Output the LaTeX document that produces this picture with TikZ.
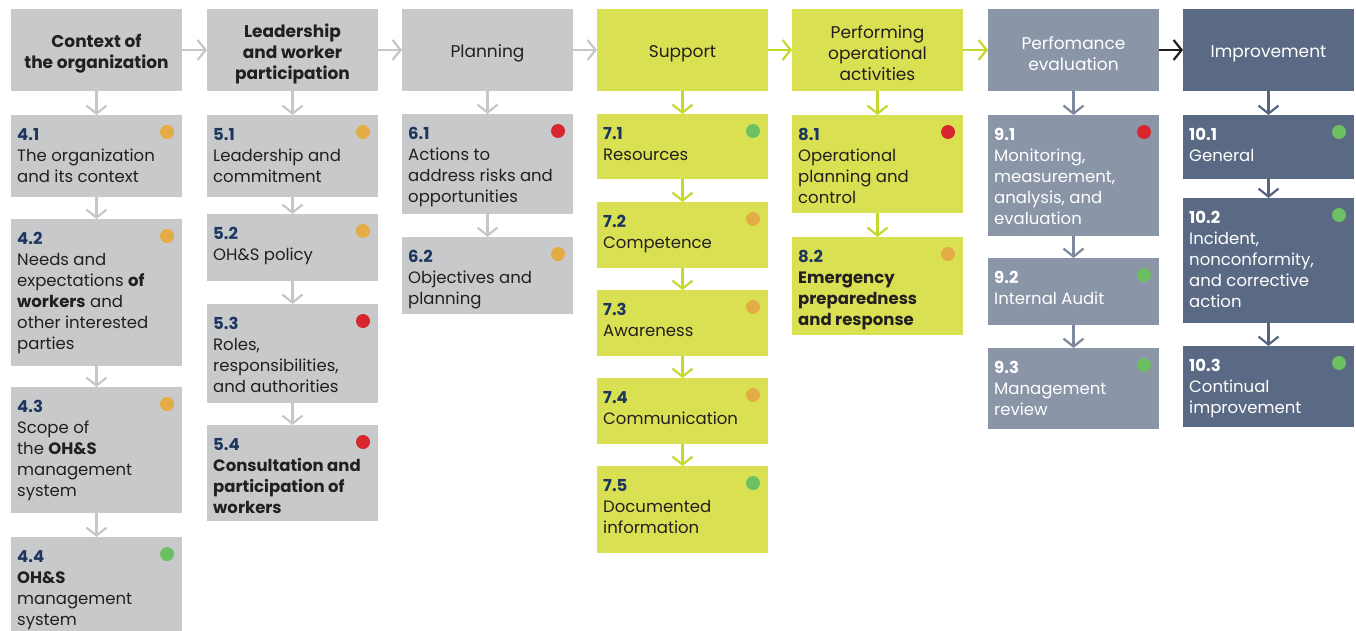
\documentclass[tikz,border=0pt]{standalone}
\usepackage{fontspec}
\setmainfont{Poppins}
\usetikzlibrary{arrows.meta}

\definecolor{boxgray}{HTML}{C8C9CB}
\definecolor{boxlime}{HTML}{D9E152}
\definecolor{boxeval}{HTML}{8A95A8}
\definecolor{boximpr}{HTML}{5B6A84}
\definecolor{arrgray}{HTML}{C6C7C9}
\definecolor{arrlime}{HTML}{C5D92D}
\definecolor{arreval}{HTML}{7D889C}
\definecolor{arrimpr}{HTML}{56647E}
\definecolor{navy}{HTML}{1C365F}
\definecolor{ink}{HTML}{231F20}
\definecolor{dotorg}{HTML}{E3AC45}
\definecolor{dotred}{HTML}{D7262E}
\definecolor{dotgrn}{HTML}{6CC062}

\newcommand\secno[1]{{\bfseries\color{navy}#1}}
\newcommand\secnow[1]{{\bfseries\color{white}#1}}

\tikzset{
  head/.style={anchor=north west, minimum width=171pt, minimum height=82pt, inner sep=0, outer sep=0},
  htxt/.style={yshift=-3.5pt, inner sep=0, align=center, text=ink, font=\fontsize{17}{21}\selectfont},
  sec/.style={anchor=north west, minimum width=171pt, inner sep=0, outer sep=0},
  txt/.style={anchor=north west, xshift=6pt, yshift=-13pt, inner sep=0, align=left,
    text=ink, font=\fontsize{16.5}{21}\selectfont},
  flow/.style={line width=2.2pt, -{Straight Barb[length=8pt,width=20pt]}},
}

\begin{document}
\begin{tikzpicture}[x=1pt,y=-1pt]
\useasboundingbox (0,0) rectangle (1356,631);

% headers
\node[head, fill=boxgray] (h4) at (11,9) {};
\node[head, fill=boxgray] (h5) at (207,9) {};
\node[head, fill=boxgray] (h6) at (402,9) {};
\node[head, fill=boxlime] (h7) at (597,9) {};
\node[head, fill=boxlime] (h8) at (792,9) {};
\node[head, fill=boxeval] (h9) at (988,9) {};
\node[head, fill=boximpr] (h10) at (1183,9) {};
\node[htxt, font=\fontsize{17}{21}\bfseries] (ht4) at (h4.center) {Context of\\the organization};
\node[htxt, font=\fontsize{17}{21}\bfseries] (ht5) at (h5.center) {Leadership\\and worker\\participation};
\node[htxt] (ht6) at (h6.center) {Planning};
\node[htxt] (ht7) at (h7.center) {Support};
\node[htxt] (ht8) at (h8.center) {Performing\\operational\\activities};
\node[htxt, text=white] (ht9) at (h9.center) {Perfomance\\evaluation};
\node[htxt, text=white] (ht10) at (h10.center) {Improvement};

\draw[flow, arrgray] (h4.east) -- (h5.west);
\draw[flow, arrgray] (h5.east) -- (h6.west);
\draw[flow, arrgray] (h6.east) -- (h7.west);
\draw[flow, arrlime] (h7.east) -- (h8.west);
\draw[flow, arrlime] (h8.east) -- (h9.west);
\draw[flow, ink] (h9.east) -- (h10.west);

% clause 4
\node[sec, fill=boxgray, minimum height=82pt] (b41) at (11,115) {};
\node[sec, fill=boxgray, minimum height=147pt] (b42) at (11,219) {};
\node[sec, fill=boxgray, minimum height=126pt] (b43) at (11,387) {};
\node[sec, fill=boxgray, minimum height=94pt] (b44) at (11,537) {};
\node[txt] (t41) at (b41.north west) {\secno{4.1}\\The organization\\and its context};
\node[txt] (t42) at (b42.north west) {\secno{4.2}\\Needs and\\expectations \textbf{of}\\\textbf{workers} and\\other interested\\parties};
\node[txt] (t43) at (b43.north west) {\secno{4.3}\\Scope of\\the \textbf{OH\&S}\\management\\system};
\node[txt] (t44) at (b44.north west) {\secno{4.4}\\\textbf{OH\&S}\\management\\system};
\draw[flow, arrgray] (h4.south) -- (b41.north);
\draw[flow, arrgray] (b41.south) -- (b42.north);
\draw[flow, arrgray] (b42.south) -- (b43.north);
\draw[flow, arrgray] (b43.south) -- (b44.north);

% clause 5
\node[sec, fill=boxgray, minimum height=82pt] (b51) at (207,115) {};
\node[sec, fill=boxgray, minimum height=67pt] (b52) at (207,214) {};
\node[sec, fill=boxgray, minimum height=99pt] (b53) at (207,304) {};
\node[sec, fill=boxgray, minimum height=96pt] (b54) at (207,425) {};
\node[txt] (t51) at (b51.north west) {\secno{5.1}\\Leadership and\\commitment};
\node[txt] (t52) at (b52.north west) {\secno{5.2}\\OH\&S policy};
\node[txt] (t53) at (b53.north west) {\secno{5.3}\\Roles,\\responsibilities,\\and authorities};
\node[txt] (t54) at (b54.north west) {\secno{5.4}\\\textbf{Consultation and}\\\textbf{participation of}\\\textbf{workers}};
\draw[flow, arrgray] (h5.south) -- (b51.north);
\draw[flow, arrgray] (b51.south) -- (b52.north);
\draw[flow, arrgray] (b52.south) -- (b53.north);
\draw[flow, arrgray] (b53.south) -- (b54.north);

% clause 6
\node[sec, fill=boxgray, minimum height=100pt] (b61) at (402,114) {};
\node[sec, fill=boxgray, minimum height=77pt] (b62) at (402,237) {};
\node[txt] (t61) at (b61.north west) {\secno{6.1}\\Actions to\\address risks and\\opportunities};
\node[txt] (t62) at (b62.north west) {\secno{6.2}\\Objectives and\\planning};
\draw[flow, arrgray] (h6.south) -- (b61.north);
\draw[flow, arrgray] (b61.south) -- (b62.north);

% clause 7
\node[sec, fill=boxlime, minimum height=65pt] (b71) at (597,114) {};
\node[sec, fill=boxlime, minimum height=66pt] (b72) at (597,202) {};
\node[sec, fill=boxlime, minimum height=66pt] (b73) at (597,290) {};
\node[sec, fill=boxlime, minimum height=66pt] (b74) at (597,378) {};
\node[sec, fill=boxlime, minimum height=87pt] (b75) at (597,466) {};
\node[txt] (t71) at (b71.north west) {\secno{7.1}\\Resources};
\node[txt] (t72) at (b72.north west) {\secno{7.2}\\Competence};
\node[txt] (t73) at (b73.north west) {\secno{7.3}\\Awareness};
\node[txt] (t74) at (b74.north west) {\secno{7.4}\\Communication};
\node[txt] (t75) at (b75.north west) {\secno{7.5}\\Documented\\information};
\draw[flow, arrlime] (h7.south) -- (b71.north);
\draw[flow, arrlime] (b71.south) -- (b72.north);
\draw[flow, arrlime] (b72.south) -- (b73.north);
\draw[flow, arrlime] (b73.south) -- (b74.north);
\draw[flow, arrlime] (b74.south) -- (b75.north);

% clause 8
\node[sec, fill=boxlime, minimum height=98pt] (b81) at (792,115) {};
\node[sec, fill=boxlime, minimum height=98pt] (b82) at (792,237) {};
\node[txt] (t81) at (b81.north west) {\secno{8.1}\\Operational\\planning and\\control};
\node[txt] (t82) at (b82.north west) {\secno{8.2}\\\textbf{Emergency}\\\textbf{preparedness}\\\textbf{and response}};
\draw[flow, arrlime] (h8.south) -- (b81.north);
\draw[flow, arrlime] (b81.south) -- (b82.north);

% clause 9
\node[sec, fill=boxeval, minimum height=121pt] (b91) at (988,115) {};
\node[sec, fill=boxeval, minimum height=67pt] (b92) at (988,258) {};
\node[sec, fill=boxeval, minimum height=81pt] (b93) at (988,348) {};
\node[txt, text=white] (t91) at (b91.north west) {\secnow{9.1}\\Monitoring,\\measurement,\\analysis, and\\evaluation};
\node[txt, text=white] (t92) at (b92.north west) {\secnow{9.2}\\Internal Audit};
\node[txt, text=white] (t93) at (b93.north west) {\secnow{9.3}\\Management\\review};
\draw[flow, arreval] (h9.south) -- (b91.north);
\draw[flow, arreval] (b91.south) -- (b92.north);
\draw[flow, arreval] (b92.south) -- (b93.north);

% clause 10
\node[sec, fill=boximpr, minimum height=64pt] (b101) at (1183,115) {};
\node[sec, fill=boximpr, minimum height=125pt] (b102) at (1183,198) {};
\node[sec, fill=boximpr, minimum height=81pt] (b103) at (1183,346) {};
\node[txt, text=white] (t101) at (b101.north west) {\secnow{10.1}\\General};
\node[txt, text=white] (t102) at (b102.north west) {\secnow{10.2}\\Incident,\\nonconformity,\\and corrective\\action};
\node[txt, text=white] (t103) at (b103.north west) {\secnow{10.3}\\Continual\\improvement};
\draw[flow, arrimpr] (h10.south) -- (b101.north);
\draw[flow, arrimpr] (b101.south) -- (b102.north);
\draw[flow, arrimpr] (b102.south) -- (b103.north);

% status dots
\foreach \b/\c in {b41/dotorg, b42/dotorg, b43/dotorg, b44/dotgrn,
                   b51/dotorg, b52/dotorg, b53/dotred, b54/dotred,
                   b61/dotred, b62/dotorg,
                   b71/dotgrn, b72/dotorg, b73/dotorg, b74/dotorg, b75/dotgrn,
                   b81/dotred, b82/dotorg,
                   b91/dotred, b92/dotgrn, b93/dotgrn,
                   b101/dotgrn, b102/dotgrn, b103/dotgrn}
  \fill[\c] ([xshift=-15pt,yshift=-17pt]\b.north east) circle (7);
\end{tikzpicture}
\end{document}
